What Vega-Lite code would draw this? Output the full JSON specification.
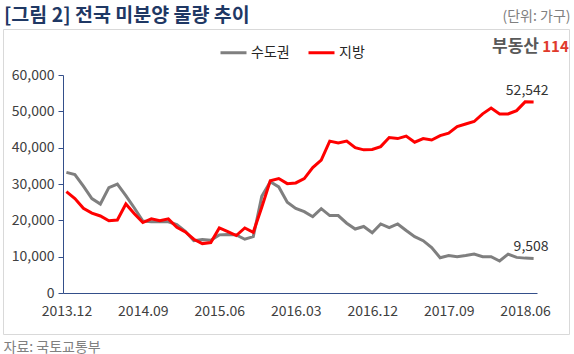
{
  "$schema": "https://vega.github.io/schema/vega-lite/v6.json",
  "width": 566,
  "height": 305,
  "autosize": {"type": "none"},
  "padding": {"left": 3, "top": 29, "right": 5, "bottom": 20},
  "background": "white",
  "config": {
    "font": "Noto Sans CJK KR",
    "view": {"stroke": "#d9d9d9", "strokeWidth": 1}
  },
  "title": {
    "text": "[그림 2] 전국 미분양 물량 추이",
    "anchor": "start",
    "frame": "group",
    "offset": -17,
    "dx": 1,
    "fontSize": 19.5,
    "fontWeight": "bold",
    "color": "#1f3864",
    "font": "Noto Sans CJK KR"
  },
  "data": {
    "values": [
      {"month": "2013.12", "수도권": 33192, "지방": 27899},
      {"month": "2014.01", "수도권": 32600, "지방": 26000},
      {"month": "2014.02", "수도권": 29400, "지방": 23300},
      {"month": "2014.03", "수도권": 26000, "지방": 22000},
      {"month": "2014.04", "수도권": 24500, "지방": 21200},
      {"month": "2014.05", "수도권": 29000, "지방": 19900},
      {"month": "2014.06", "수도권": 30000, "지방": 20100},
      {"month": "2014.07", "수도권": 26800, "지방": 24500},
      {"month": "2014.08", "수도권": 23400, "지방": 21800},
      {"month": "2014.09", "수도권": 19800, "지방": 19400},
      {"month": "2014.10", "수도권": 19600, "지방": 20400},
      {"month": "2014.11", "수도권": 19700, "지방": 19900},
      {"month": "2014.12", "수도권": 19600, "지방": 20400},
      {"month": "2015.01", "수도권": 18800, "지방": 18100},
      {"month": "2015.02", "수도권": 17000, "지방": 16800},
      {"month": "2015.03", "수도권": 14400, "지방": 14800},
      {"month": "2015.04", "수도권": 14700, "지방": 13600},
      {"month": "2015.05", "수도권": 14500, "지방": 13900},
      {"month": "2015.06", "수도권": 16000, "지방": 17900},
      {"month": "2015.07", "수도권": 16100, "지방": 16900},
      {"month": "2015.08", "수도권": 16000, "지방": 15800},
      {"month": "2015.09", "수도권": 14800, "지방": 17900},
      {"month": "2015.10", "수도권": 15500, "지방": 16700},
      {"month": "2015.11", "수도권": 26600, "지방": 23600},
      {"month": "2015.12", "수도권": 30600, "지방": 30900},
      {"month": "2016.01", "수도권": 29200, "지방": 31500},
      {"month": "2016.02", "수도권": 25000, "지방": 30100},
      {"month": "2016.03", "수도권": 23300, "지방": 30300},
      {"month": "2016.04", "수도권": 22400, "지방": 31500},
      {"month": "2016.05", "수도권": 21000, "지방": 34500},
      {"month": "2016.06", "수도권": 23200, "지방": 36600},
      {"month": "2016.07", "수도권": 21300, "지방": 41800},
      {"month": "2016.08", "수도권": 21300, "지방": 41300},
      {"month": "2016.09", "수도권": 19200, "지방": 41800},
      {"month": "2016.10", "수도권": 17600, "지방": 40000},
      {"month": "2016.11", "수도권": 18300, "지방": 39400},
      {"month": "2016.12", "수도권": 16600, "지방": 39500},
      {"month": "2017.01", "수도권": 19000, "지방": 40300},
      {"month": "2017.02", "수도권": 18000, "지방": 42800},
      {"month": "2017.03", "수도권": 19000, "지방": 42500},
      {"month": "2017.04", "수도권": 17200, "지방": 43200},
      {"month": "2017.05", "수도권": 15500, "지방": 41500},
      {"month": "2017.06", "수도권": 14400, "지방": 42500},
      {"month": "2017.07", "수도권": 12500, "지방": 42100},
      {"month": "2017.08", "수도권": 9700, "지방": 43300},
      {"month": "2017.09", "수도권": 10300, "지방": 44000},
      {"month": "2017.10", "수도권": 10000, "지방": 45800},
      {"month": "2017.11", "수도권": 10300, "지방": 46500},
      {"month": "2017.12", "수도권": 10700, "지방": 47200},
      {"month": "2018.01", "수도권": 10000, "지방": 49300},
      {"month": "2018.02", "수도권": 10000, "지방": 50900},
      {"month": "2018.03", "수도권": 8800, "지방": 49300},
      {"month": "2018.04", "수도권": 10700, "지방": 49300},
      {"month": "2018.05", "수도권": 9800, "지방": 50200},
      {"month": "2018.06", "수도권": 9600, "지방": 52600},
      {"month": "2018.07", "수도권": 9508, "지방": 52542}
    ]
  },
  "transform": [{"fold": ["수도권", "지방"], "as": ["region", "value"]}],
  "layer": [
    {
      "mark": {"type": "line", "strokeWidth": 3},
      "encoding": {
        "x": {
          "field": "month",
          "type": "ordinal",
          "sort": null,
          "scale": {"type": "point", "range": [60, 534], "padding": 0.4},
          "axis": {
            "orient": "bottom",
            "offset": -41,
            "values": ["2013.12", "2014.09", "2015.06", "2016.03", "2016.12", "2017.09", "2018.06"],
            "labelAngle": 0,
            "ticks": false,
            "tickSize": 0,
            "domainColor": "#344f8a",
            "labelFontSize": 14,
            "labelColor": "#404040",
            "labelPadding": 11,
            "grid": false,
            "title": "자료: 국토교통부",
            "titleX": 0,
            "titleY": 58,
            "titleAlign": "left",
            "titleBaseline": "alphabetic",
            "titleFontSize": 14,
            "titleFontWeight": "normal",
            "titleColor": "#808080"
          }
        },
        "y": {
          "field": "value",
          "type": "quantitative",
          "scale": {"domain": [0, 60000], "range": [264, 46], "nice": false},
          "axis": {
            "offset": -60,
            "values": [0, 10000, 20000, 30000, 40000, 50000, 60000],
            "format": ",.0f",
            "labelFontSize": 14,
            "labelColor": "#404040",
            "tickColor": "#344f8a",
            "tickSize": 5,
            "domainColor": "#344f8a",
            "labelPadding": 4,
            "grid": false,
            "title": "(단위: 가구)",
            "titleAngle": 0,
            "titleAlign": "right",
            "titleBaseline": "alphabetic",
            "titleX": 507,
            "titleY": -9,
            "titleFontSize": 14,
            "titleFontWeight": "normal",
            "titleColor": "#808080"
          }
        },
        "color": {
          "field": "region",
          "type": "nominal",
          "scale": {"domain": ["수도권", "지방"], "range": ["#7f7f7f", "#ff0000"]},
          "legend": {
            "orient": "none",
            "legendX": 216,
            "legendY": 9,
            "direction": "horizontal",
            "title": null,
            "symbolType": "stroke",
            "symbolSize": 676,
            "symbolStrokeWidth": 3,
            "labelFontSize": 14,
            "labelColor": "#262626",
            "labelOffset": 3,
            "columnPadding": 12
          }
        }
      }
    },
    {
      "transform": [{"filter": "datum.month === '2018.07'"}],
      "mark": {"type": "text", "align": "right", "baseline": "alphabetic", "dx": 15, "dy": -7, "fontSize": 14, "color": "#333333"},
      "encoding": {
        "x": {
          "field": "month",
          "type": "ordinal",
          "sort": null,
          "axis": {
            "orient": "top",
            "labels": false,
            "ticks": false,
            "domain": false,
            "grid": false,
            "title": "114",
            "titleX": 552,
            "titleY": 22,
            "titleAlign": "center",
            "titleBaseline": "alphabetic",
            "titleFontSize": 15,
            "titleFontWeight": "bold",
            "titleColor": "#e03a2c"
          }
        },
        "y": {
          "field": "value",
          "type": "quantitative",
          "axis": {
            "orient": "right",
            "labels": false,
            "ticks": false,
            "domain": false,
            "grid": false,
            "title": "부동산",
            "titleAngle": 0,
            "titleX": -54,
            "titleY": 22,
            "titleAlign": "center",
            "titleBaseline": "alphabetic",
            "titleFontSize": 17,
            "titleFontWeight": "bold",
            "titleColor": "#595959"
          }
        },
        "text": {"field": "value", "type": "quantitative", "format": ","}
      }
    }
  ],
  "resolve": {"axis": {"x": "independent", "y": "independent"}}
}
